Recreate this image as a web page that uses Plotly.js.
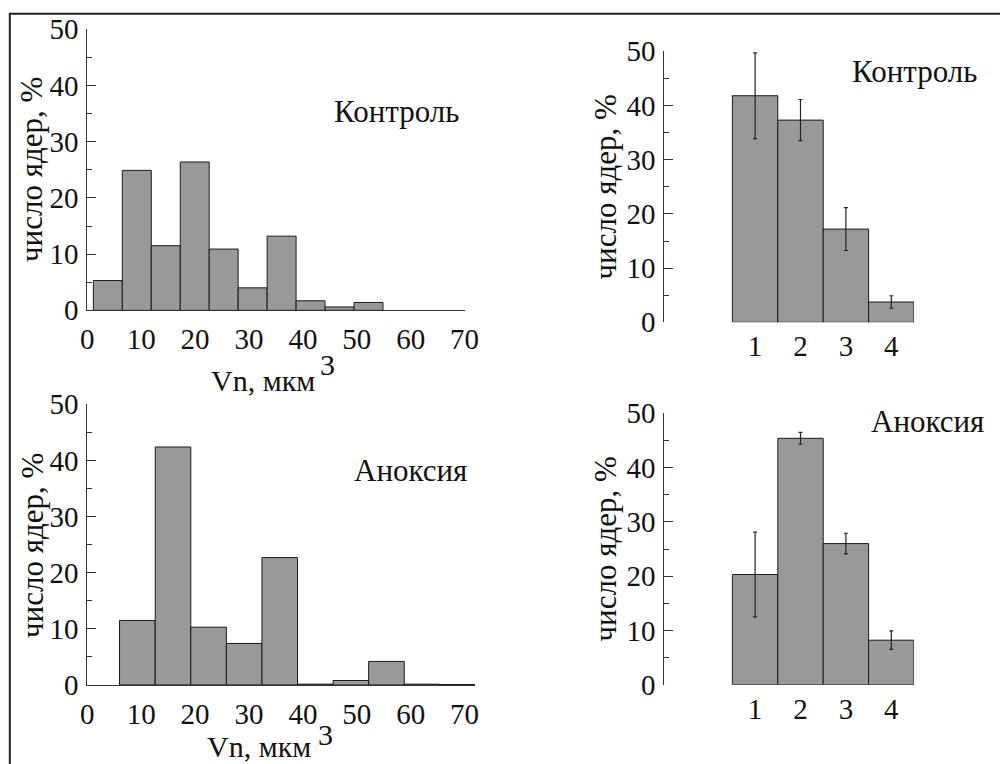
<!DOCTYPE html>
<html>
<head>
<meta charset="utf-8">
<script src="https://cdn.plot.ly/plotly-3.0.1.min.js"></script>
<style>html,body{margin:0;padding:0;background:#fff;}#chart{width:1000px;height:764px;}</style>
</head>
<body>
<div id="chart"></div>
<script>
// ---- data ----
const ctrlHistCenters = [3.81, 9.18, 14.55, 19.93, 25.30, 30.68, 36.05, 41.42, 46.80, 52.17];
const ctrlHistPct     = [5.3, 24.9, 11.5, 26.4, 10.9, 4.0, 13.2, 1.7, 0.6, 1.4];
const ctrlBinWidth    = 5.37;

const anoxHistCenters = [9.28, 15.9, 22.5, 29.1, 35.7, 42.3, 48.9, 55.5, 62.0, 68.6];
const anoxHistPct     = [11.5, 42.4, 10.3, 7.4, 22.7, 0.15, 0.8, 4.2, 0.15, 0.08];
const anoxBinWidth    = 6.6;

const classes       = [1, 2, 3, 4];
const classLabels   = ['1', '2', '3', '4'];
const ctrlClassPct  = [41.8, 37.3, 17.2, 3.75];
const ctrlClassErr  = [7.9, 3.8, 3.95, 1.15];
const anoxClassPct  = [20.3, 45.4, 26.0, 8.2];
const anoxClassErr  = [7.8, 1.1, 1.9, 1.7];

const histTicks = [0, 10, 20, 30, 40, 50, 60, 70];
const yTicks    = [0, 10, 20, 30, 40, 50];

const panelTitles = ['Контроль', 'Аноксия'];
const yTitle = 'число ядер, %';
const xTitle = 'Vn, мкм';
const xTitleSup = '3';

// ---- styling ----
const FONT = 'Times New Roman, Liberation Serif, DejaVu Serif, serif';
const barFill = 'rgb(153,153,153)';
const barLine = {color: '#1a1a1a', width: 1};
const errStyle = {type: 'data', color: '#222', thickness: 1.2, width: 2};

function histTrace(x, y, w, xa, ya) {
  return {type: 'bar', x: x, y: y, width: w, xaxis: xa, yaxis: ya,
          marker: {color: barFill, line: barLine}, hoverinfo: 'none'};
}
function classTrace(y, err, xa, ya) {
  return {type: 'bar', x: classes, y: y, width: 1, xaxis: xa, yaxis: ya,
          marker: {color: barFill, line: barLine},
          error_y: Object.assign({array: err}, errStyle), hoverinfo: 'none'};
}

const traces = [
  histTrace(ctrlHistCenters, ctrlHistPct, ctrlBinWidth, 'x', 'y'),
  histTrace(anoxHistCenters, anoxHistPct, anoxBinWidth, 'x2', 'y2'),
  classTrace(ctrlClassPct, ctrlClassErr, 'x3', 'y3'),
  classTrace(anoxClassPct, anoxClassErr, 'x4', 'y4')
];

const tickFont = {family: FONT, size: 29, color: '#111'};
function yAxis(domain, anchor) {
  return {domain: domain, anchor: anchor, range: [0, 50], tickvals: yTicks,
          showline: true, linecolor: '#333', linewidth: 1,
          ticks: 'inside', ticklen: 9, tickcolor: '#333', tickwidth: 1,
          minor: {dtick: 5, tick0: 0, ticks: 'inside', ticklen: 5, tickcolor: '#333', tickwidth: 1},
          showgrid: false, zeroline: false, fixedrange: true, ticklabelstandoff: 2, tickfont: tickFont};
}
function xHist(domain, range, anchor) {
  return {domain: domain, anchor: anchor, range: range, tickvals: histTicks,
          showline: true, linecolor: '#333', linewidth: 1, ticks: '',
          showgrid: false, zeroline: false, fixedrange: true, ticklabelstandoff: 3, tickfont: tickFont};
}
function xClass(anchor) {
  return {domain: [0.6643, 0.914], anchor: anchor, range: [-1, 4.5],
          tickvals: classes, ticktext: classLabels, showline: false, ticks: '',
          showgrid: false, zeroline: false, fixedrange: true, ticklabelstandoff: 4, tickfont: tickFont};
}

const annFont = {family: FONT, size: 31, color: '#111'};
function ann(text, x, y, xanchor, extra) {
  return Object.assign({text: text, x: x, y: y, xref: 'paper', yref: 'paper',
          xanchor: xanchor, yanchor: 'middle', showarrow: false, font: annFont}, extra || {});
}
const H = 764, W = 1000;
const px = v => v / W, py = v => 1 - v / H;
const titleFont = {family: FONT, size: 30, color: '#111'};

const annotations = [
  ann(panelTitles[0], px(461), py(111.7), 'right'),
  ann(panelTitles[1], px(469), py(470), 'right'),
  ann(panelTitles[0], px(979), py(71.7), 'right'),
  ann(panelTitles[1], px(986), py(421.7), 'right'),
  ann(yTitle, px(31), py(170), 'center', {textangle: -90}),
  ann(yTitle, px(32), py(546), 'center', {textangle: -90}),
  ann(yTitle, px(604.5), py(187), 'center', {textangle: -90}),
  ann(yTitle, px(604.5), py(549), 'center', {textangle: -90}),
  ann(xTitle, px(263), py(380), 'center', {font: titleFont}),
  ann(xTitleSup, px(327), py(365), 'center', {font: titleFont}),
  ann(xTitle, px(259), py(746), 'center', {font: titleFont}),
  ann(xTitleSup, px(325), py(734), 'center', {font: titleFont})
];

const layout = {
  width: W, height: H,
  margin: {l: 0, r: 0, t: 0, b: 0},
  paper_bgcolor: '#fff', plot_bgcolor: 'rgba(0,0,0,0)',
  font: {family: FONT, size: 29, color: '#111'},
  showlegend: false, bargap: 0,
  xaxis:  xHist([0.0873, 0.4646], [0, 70], 'y'),
  yaxis:  yAxis([0.5938, 0.9616], 'x'),
  xaxis2: xHist([0.0873, 0.4754], [0, 72], 'y2'),
  yaxis2: yAxis([0.1034, 0.4708], 'x2'),
  xaxis3: xClass('y3'),
  yaxis3: yAxis([0.5781, 0.9329], 'x3'),
  xaxis4: xClass('y4'),
  yaxis4: yAxis([0.1038, 0.4590], 'x4'),
  annotations: annotations,
  shapes: [{type: 'rect', xref: 'paper', yref: 'paper',
            x0: px(9.8), x1: 1.05, y0: -0.05, y1: py(13.8),
            line: {color: '#222', width: 2}, fillcolor: 'rgba(0,0,0,0)', layer: 'above'}]
};

Plotly.newPlot('chart', traces, layout, {staticPlot: true, displayModeBar: false});
</script>
</body>
</html>
